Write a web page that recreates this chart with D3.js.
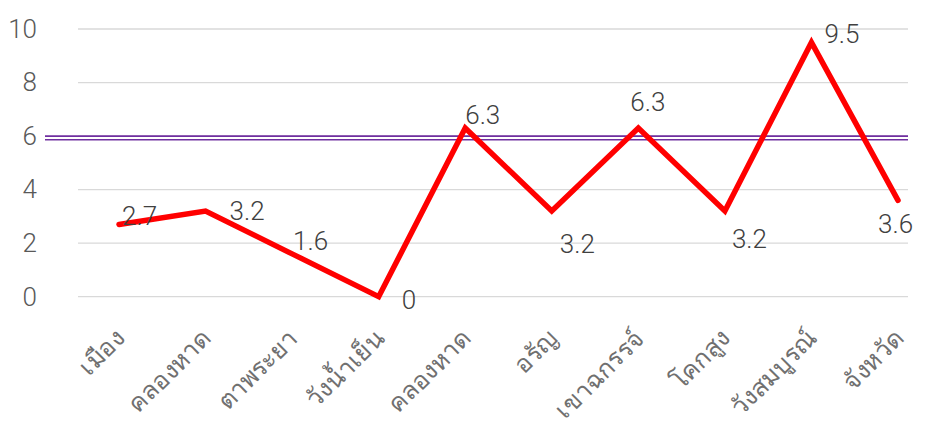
<!DOCTYPE html>
<html>
<head>
<meta charset="utf-8">
<script src="https://cdn.jsdelivr.net/npm/d3@7"></script>
<style>
  body { margin: 0; background: #fff; }
  text { font-family: Roboto, "Noto Sans", sans-serif; }
</style>
</head>
<body>
<div id="container"></div>
<script>
const categories = ["เมือง", "คลองหาด", "ตาพระยา", "วังน้ำเย็น", "คลองหาด", "อรัญ", "เขาฉกรรจ์", "โคกสูง", "วังสมบูรณ์", "จังหวัด"];
const values = [2.7, 3.2, 1.6, 0, 6.3, 3.2, 6.3, 3.2, 9.5, 3.6];
const yTicks = [0, 2, 4, 6, 8, 10];
const threshold = 6;

// label nudges (dx, dy from point to label baseline-left)
const labelNudge = [[3, 1], [24, 9], [1, -4], [23, 12], [0, -4], [8, 42], [-8, -17], [7, 37], [13, 1], [-20, 33]];

const w = 930;
const h = 425;

const svg = d3
  .select("#container")
  .append("svg")
  .attr("width", w)
  .attr("height", h);

const xScale = d3
  .scalePoint()
  .domain(d3.range(categories.length))
  .range([119, 898]);

const yScale = d3.scaleLinear().domain([0, 10]).range([296.7, 29]);

// grid
svg
  .append("g")
  .selectAll("line")
  .data(yTicks)
  .join("line")
  .attr("x1", 78)
  .attr("x2", 908)
  .attr("y1", (d) => yScale(d))
  .attr("y2", (d) => yScale(d))
  .attr("stroke", "#d9d9d9")
  .attr("stroke-width", 1.3);

// y axis labels
const yAxis = svg
  .append("g")
  .attr("transform", "translate(40,0)")
  .call(d3.axisLeft(yScale).tickValues(yTicks).tickSize(0).tickPadding(3));
yAxis.select(".domain").remove();
yAxis
  .selectAll("text")
  .attr("font-size", 26)
  .attr("font-weight", 300)
  .attr("font-family", "Roboto, 'Noto Sans', sans-serif")
  .attr("fill", "#595959");

// threshold double line
[0, 3.7].forEach((off) => {
  svg
    .append("line")
    .attr("x1", 45)
    .attr("x2", 908)
    .attr("y1", yScale(threshold) + off)
    .attr("y2", yScale(threshold) + off)
    .attr("stroke", "#7030a0")
    .attr("stroke-width", 1.6);
});

// x labels (cut at bottom edge like the original)
svg
  .append("g")
  .selectAll("text")
  .data(categories)
  .join("text")
  .attr("transform", (d, i) => `translate(${xScale(i) + 7},${340}) rotate(-45)`)
  .attr("text-anchor", "end")
  .attr("font-size", 25)
  .attr("fill", "#707070")
  .text((d) => d);

// line
const line = d3
  .line()
  .x((d, i) => xScale(i))
  .y((d) => yScale(d));

svg
  .append("path")
  .datum(values)
  .attr("fill", "none")
  .attr("stroke", "#ff0000")
  .attr("stroke-width", 5.5)
  .attr("stroke-linejoin", "miter")
  .attr("stroke-linecap", "round")
  .attr("d", line);

// data labels
svg
  .append("g")
  .selectAll("text")
  .data(values)
  .join("text")
  .attr("x", (d, i) => xScale(i) + labelNudge[i][0])
  .attr("y", (d, i) => yScale(d) + labelNudge[i][1])
  .attr("font-size", 26)
  .attr("font-weight", 300)
  .attr("fill", "#404040")
  .text((d) => d);
</script>
</body>
</html>
